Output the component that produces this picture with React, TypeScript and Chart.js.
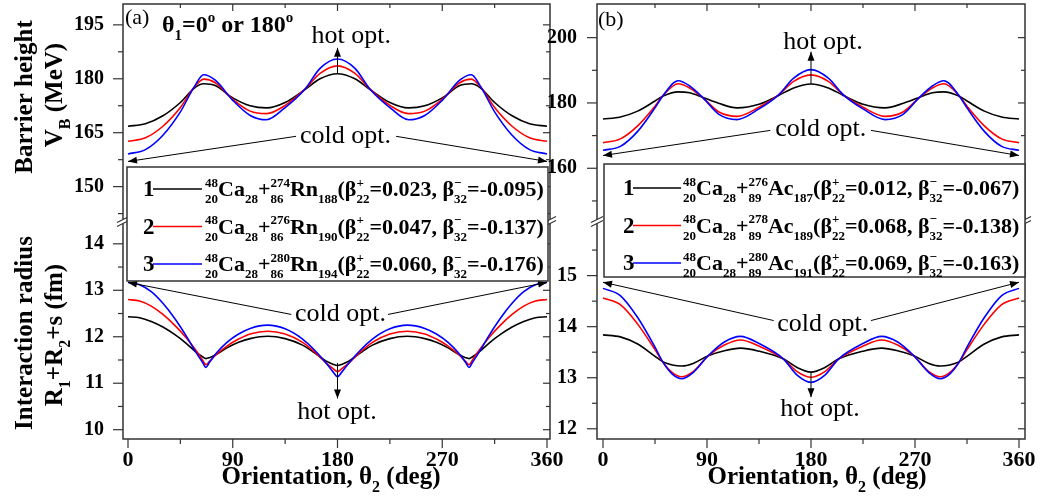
import React, { useEffect, useRef } from 'react';
import { Chart, registerables } from 'chart.js';
Chart.register(...registerables);

const FONT = '"Liberation Serif", "Times New Roman", Times, serif';
const COLORS = ['#000000', '#ff0000', '#0000ff'];

// ---------------- Panel (a): Ca + Rn ----------------
const thetaBarrierA = [0, 15, 30, 45, 57, 65, 75, 90, 105, 119, 135, 152, 165, 180, 195, 208, 225, 241, 255, 270, 285, 295, 303, 315, 330, 345, 360];
const barrierA1 = [166.8, 167.5, 169.7, 173.4, 177.4, 178.6, 178.1, 174.7, 172.5, 171.9, 173.4, 177.0, 180.0, 181.4, 180.0, 177.0, 173.4, 171.9, 172.5, 174.7, 178.1, 178.6, 177.4, 173.4, 169.7, 167.5, 166.8];
const barrierA2 = [162.6, 163.6, 166.8, 172.0, 177.7, 179.9, 178.9, 174.3, 171.0, 170.3, 172.6, 177.1, 181.5, 183.6, 181.5, 177.1, 172.6, 170.3, 171.0, 174.3, 178.9, 179.9, 177.7, 172.0, 166.8, 163.6, 162.6];
const barrierA3 = [159.1, 160.3, 164.3, 170.8, 177.8, 181.1, 179.6, 174.0, 169.8, 168.6, 172.0, 177.1, 182.9, 185.5, 182.9, 177.1, 172.0, 168.6, 169.8, 174.0, 179.6, 181.1, 177.8, 170.8, 164.3, 160.3, 159.1];

const thetaRadiusA = [0, 10, 20, 30, 40, 50, 58, 64, 67, 70, 76, 85, 95, 105, 120, 135, 150, 160, 170, 176, 180, 184, 190, 200, 210, 225, 240, 255, 265, 275, 284, 290, 293, 296, 302, 310, 320, 330, 340, 350, 360];
const radiusA1 = [12.43, 12.41, 12.33, 12.21, 12.05, 11.86, 11.68, 11.57, 11.53, 11.55, 11.62, 11.76, 11.88, 11.96, 12.01, 11.96, 11.82, 11.66, 11.48, 11.41, 11.38, 11.41, 11.48, 11.66, 11.82, 11.96, 12.01, 11.96, 11.88, 11.76, 11.62, 11.55, 11.53, 11.57, 11.68, 11.86, 12.05, 12.21, 12.33, 12.41, 12.43];
const radiusA2 = [12.80, 12.77, 12.66, 12.48, 12.25, 11.98, 11.72, 11.50, 11.40, 11.47, 11.62, 11.80, 11.95, 12.06, 12.12, 12.06, 11.88, 11.68, 11.44, 11.32, 11.25, 11.32, 11.44, 11.68, 11.88, 12.06, 12.12, 12.06, 11.95, 11.80, 11.62, 11.47, 11.40, 11.50, 11.72, 11.98, 12.25, 12.48, 12.66, 12.77, 12.80];
const radiusA3 = [13.17, 13.12, 12.97, 12.72, 12.40, 12.02, 11.68, 11.45, 11.34, 11.45, 11.65, 11.88, 12.06, 12.18, 12.25, 12.17, 11.95, 11.72, 11.44, 11.25, 11.14, 11.25, 11.44, 11.72, 11.95, 12.17, 12.25, 12.18, 12.06, 11.88, 11.65, 11.45, 11.34, 11.45, 11.68, 12.02, 12.40, 12.72, 12.97, 13.12, 13.17];

// ---------------- Panel (b): Ca + Ac ----------------
const thetaBarrierB = [0, 15, 30, 45, 52, 65, 75, 87, 100, 116, 135, 152, 165, 180, 195, 208, 225, 244, 260, 273, 285, 295, 308, 315, 330, 345, 360];
const barrierB1 = [175.1, 175.7, 177.5, 180.6, 182.1, 183.4, 183.1, 181.6, 179.9, 178.5, 179.6, 182.3, 184.6, 185.8, 184.6, 182.3, 179.6, 178.5, 179.9, 181.6, 183.1, 183.4, 182.1, 180.6, 177.5, 175.7, 175.1];
const barrierB2 = [167.8, 169.0, 173.0, 179.0, 182.3, 185.9, 184.6, 181.4, 177.3, 175.9, 178.7, 182.5, 186.6, 188.6, 186.6, 182.5, 178.7, 175.9, 177.3, 181.4, 184.6, 185.9, 182.3, 179.0, 173.0, 169.0, 167.8];
const barrierB3 = [165.5, 166.7, 171.3, 178.5, 182.3, 186.8, 185.2, 181.4, 176.6, 174.9, 178.2, 182.5, 187.6, 190.2, 187.6, 182.5, 178.2, 174.9, 176.6, 181.4, 185.2, 186.8, 182.3, 178.5, 171.3, 166.7, 165.5];

const thetaRadiusB = [0, 15, 30, 45, 52, 60, 68, 78, 91, 105, 119, 135, 156, 168, 180, 192, 204, 225, 241, 255, 269, 282, 292, 300, 308, 315, 330, 345, 360];
const radiusB1 = [13.84, 13.80, 13.66, 13.42, 13.31, 13.25, 13.23, 13.28, 13.43, 13.53, 13.58, 13.52, 13.37, 13.20, 13.11, 13.20, 13.37, 13.52, 13.58, 13.53, 13.43, 13.28, 13.23, 13.25, 13.31, 13.42, 13.66, 13.80, 13.84];
const radiusB2 = [14.56, 14.43, 14.05, 13.55, 13.30, 13.10, 13.02, 13.12, 13.43, 13.64, 13.74, 13.62, 13.37, 13.12, 13.01, 13.12, 13.37, 13.62, 13.74, 13.64, 13.43, 13.12, 13.02, 13.10, 13.30, 13.55, 14.05, 14.43, 14.56];
const radiusB3 = [14.75, 14.61, 14.18, 13.60, 13.30, 13.07, 12.98, 13.10, 13.43, 13.70, 13.81, 13.67, 13.37, 13.05, 12.91, 13.05, 13.37, 13.67, 13.81, 13.70, 13.43, 13.10, 12.98, 13.07, 13.30, 13.60, 14.18, 14.61, 14.75];

// ---------------- Legend labels ----------------
const legendMassA = ['274', '276', '280'];
const legendNeutronA = ['188', '190', '194'];
const beta22A = ['0.023', '0.047', '0.060'];
const beta32A = ['-0.095', '-0.137', '-0.176'];
const legendMassB = ['276', '278', '280'];
const legendNeutronB = ['187', '189', '191'];
const beta22B = ['0.012', '0.068', '0.069'];
const beta32B = ['-0.067', '-0.138', '-0.163'];

type Seg = { n?: string; sup?: string; sub?: string };

const fnt = (size: number, bold: boolean) => `${bold ? 'bold ' : ''}${size}px ${FONT}`;
const isMajor = (v: number, m: number) => Math.abs(v / m - Math.round(v / m)) < 1e-6;

function segWidth(ctx: CanvasRenderingContext2D, s: Seg, main: number, small: number, bold: boolean) {
  if (s.n !== undefined) {
    ctx.font = fnt(main, bold);
    return ctx.measureText(s.n).width;
  }
  ctx.font = fnt(small, bold);
  return Math.max(s.sup ? ctx.measureText(s.sup).width : 0, s.sub ? ctx.measureText(s.sub).width : 0);
}

function drawRich(ctx: CanvasRenderingContext2D, segs: Seg[], x: number, y: number, main: number, small: number, bold: boolean, align: string) {
  const total = segs.reduce((a, s) => a + segWidth(ctx, s, main, small, bold), 0);
  let cx = align === 'center' ? x - total / 2 : align === 'right' ? x - total : x;
  ctx.textAlign = 'left';
  ctx.textBaseline = 'alphabetic';
  for (const s of segs) {
    const w = segWidth(ctx, s, main, small, bold);
    if (s.n !== undefined) {
      ctx.font = fnt(main, bold);
      ctx.fillText(s.n, cx, y);
    } else {
      ctx.font = fnt(small, bold);
      if (s.sup) ctx.fillText(s.sup, cx, y - 0.42 * main);
      if (s.sub) ctx.fillText(s.sub, cx, y + 0.33 * main);
    }
    cx += w;
  }
  return total;
}

function arrowLine(ctx: CanvasRenderingContext2D, x1: number, y1: number, x2: number, y2: number) {
  ctx.beginPath();
  ctx.moveTo(x1, y1);
  ctx.lineTo(x2, y2);
  ctx.stroke();
  const a = Math.atan2(y2 - y1, x2 - x1);
  const L = 9, W = 3.5;
  ctx.beginPath();
  ctx.moveTo(x2, y2);
  ctx.lineTo(x2 - L * Math.cos(a) + W * Math.sin(a), y2 - L * Math.sin(a) - W * Math.cos(a));
  ctx.lineTo(x2 - L * Math.cos(a) - W * Math.sin(a), y2 - L * Math.sin(a) + W * Math.cos(a));
  ctx.closePath();
  ctx.fill();
}

const SPEC_A = {
  left: 0, width: 580, yWidth: 123, padRight: 30, yPad: 11,
  xRange: [-4.3, 362.58],
  top: { min: 140.3, max: 200.8, step: 7.5, major: 15, tickMax: 200 },
  bot: { min: 9.8, max: 14.48, step: 0.5, major: 1, tickMax: 14.2 },
  upper: { theta: thetaBarrierA, series: [barrierA1, barrierA2, barrierA3] },
  lower: { theta: thetaRadiusA, series: [radiusA1, radiusA2, radiusA3] },
  legend: { box: [127, 167, 548, 281], num: 16, l1: 26, l2: 75, tx: 78, first: 29, gap: 37.5, el: 'Rn', Z: '86', mass: legendMassA, neutron: legendNeutronA, b22: beta22A, b32: beta32A },
  arrows: [
    { axis: 'top', from: [180, 181.4], to: [180, 188.6] },
    { axis: 'top', from: [144.4, 164.0], to: [0, 157.0] },
    { axis: 'top', from: [230.3, 164.0], to: [360, 157.0] },
    { axis: 'bot', from: [140.3, 12.48], to: [0, 13.17] },
    { axis: 'bot', from: [223.4, 12.48], to: [360, 13.17] },
    { axis: 'bot', from: [180, 11.435], to: [180, 10.674] },
  ],
  texts: [
    { axis: 'top', text: 'hot opt.', at: [191.8, 190.0] },
    { axis: 'top', text: 'cold opt.', at: [186.9, 162.1] },
    { axis: 'bot', text: 'cold opt.', at: [182.6, 12.34] },
    { axis: 'bot', text: 'hot opt.', at: [179.6, 10.24] },
  ],
  tag: { text: '(a)', x: 125, y: 24 },
  theta1: true,
  yTitles: true,
  xTitleCenter: 331,
};

const SPEC_B = {
  left: 540, width: 503, yWidth: 57, padRight: 18, yPad: 12,
  xRange: [-5.19, 365.19],
  top: { min: 143.7, max: 210.3, step: 10, major: 20, tickMax: 205 },
  bot: { min: 11.8, max: 16.06, step: 0.5, major: 1, tickMax: 15.6 },
  upper: { theta: thetaBarrierB, series: [barrierB1, barrierB2, barrierB3] },
  lower: { theta: thetaRadiusB, series: [radiusB1, radiusB2, radiusB3] },
  legend: { box: [604, 164, 1025, 277], num: 19, l1: 29, l2: 77, tx: 79, first: 31, gap: 37.5, el: 'Ac', Z: '89', mass: legendMassB, neutron: legendNeutronB, b22: beta22B, b32: beta32B },
  arrows: [
    { axis: 'top', from: [180, 185.8], to: [180, 195.7] },
    { axis: 'top', from: [144.8, 171.6], to: [0, 163.9] },
    { axis: 'top', from: [231.9, 171.6], to: [360, 163.9] },
    { axis: 'bot', from: [147.7, 14.12], to: [0, 14.87] },
    { axis: 'bot', from: [231.9, 14.12], to: [360, 14.87] },
    { axis: 'bot', from: [180, 13.11], to: [180, 12.62] },
  ],
  texts: [
    { axis: 'top', text: 'hot opt.', at: [190.4, 196.6] },
    { axis: 'top', text: 'cold opt.', at: [188.5, 170.0] },
    { axis: 'bot', text: 'cold opt.', at: [190.2, 13.92] },
    { axis: 'bot', text: 'hot opt.', at: [187.8, 12.25] },
  ],
  tag: { text: '(b)', x: 598, y: 26 },
  theta1: false,
  yTitles: false,
  xTitleCenter: 817,
};

function legendSegs(lg: any, i: number): Seg[] {
  return [
    { sup: '48', sub: '20' }, { n: 'Ca' }, { sub: '28' }, { n: '+' },
    { sup: lg.mass[i], sub: lg.Z }, { n: lg.el }, { sub: lg.neutron[i] },
    { n: '(\u03b2' }, { sup: '+', sub: '22' }, { n: '=' + lg.b22[i] + ', \u03b2' },
    { sup: '\u2212', sub: '32' }, { n: '=' + lg.b32[i] + ')' },
  ];
}

function makeChart(canvas: HTMLCanvasElement, sp: any) {
  const ds = (theta: number[], vals: number[], i: number, axis: string) => ({
    data: theta.map((t, k) => ({ x: t, y: vals[k] })),
    yAxisID: axis,
    borderColor: COLORS[i],
    borderWidth: 1.6,
    pointRadius: 0,
    fill: false,
    cubicInterpolationMode: 'monotone',
    order: 2 - i,
  });
  const datasets = [
    ...sp.upper.series.map((v: number[], i: number) => ds(sp.upper.theta, v, i, 'yTop')),
    ...sp.lower.series.map((v: number[], i: number) => ds(sp.lower.theta, v, i, 'yBot')),
  ];
  const zeroPad = (s: any) => { s.paddingTop = 0; s.paddingBottom = 0; s.paddingLeft = 0; s.paddingRight = 0; };
  const yScale = (cfg: any) => ({
    type: 'linear',
    position: 'left',
    stack: 'v',
    stackWeight: 1,
    min: cfg.min,
    max: cfg.max,
    grid: { display: false },
    border: { display: false },
    ticks: {
      stepSize: cfg.step,
      includeBounds: false,
      autoSkip: false,
      padding: sp.yPad,
      color: '#000',
      font: { family: FONT, size: 20, weight: 'bold' },
      callback: (v: number) => (isMajor(v, cfg.major) && v <= cfg.tickMax ? String(Math.round(v)) : ''),
    },
    afterFit: (s: any) => { s.width = sp.yWidth; zeroPad(s); },
  });

  const decor = {
    id: 'decor',
    afterDraw(chart: any) {
      const ctx: CanvasRenderingContext2D = chart.ctx;
      const ca = chart.chartArea;
      const X = chart.scales.x, YT = chart.scales.yTop, YB = chart.scales.yBot;
      const L = sp.left;
      const seg = (x1: number, y1: number, x2: number, y2: number) => {
        ctx.beginPath(); ctx.moveTo(x1, y1); ctx.lineTo(x2, y2); ctx.stroke();
      };
      ctx.save();
      // frame
      ctx.strokeStyle = '#333';
      ctx.lineWidth = 1.5;
      ctx.strokeRect(ca.left, ca.top, ca.right - ca.left, ca.bottom - ca.top);
      ctx.lineWidth = 1.2;
      for (const t of X.ticks) {
        const px = X.getPixelForValue(t.value);
        const mj = isMajor(t.value, 90);
        seg(px, ca.bottom, px, ca.bottom + (mj ? 9 : 5));
        if (t.value > 0 && t.value < 360) seg(px, ca.top, px, ca.top + (mj ? 7 : 4));
      }
      const pairs: any[] = [[YT, sp.top], [YB, sp.bot]];
      for (const [sc, cfg] of pairs) {
        for (const t of sc.ticks) {
          if (t.value > cfg.tickMax) continue;
          const py = sc.getPixelForValue(t.value);
          const mj = isMajor(t.value, cfg.major);
          seg(ca.left - (mj ? 10 : 5), py, ca.left, py);
          seg(ca.right - (mj ? 7 : 4), py, ca.right, py);
        }
      }
      // axis break marks
      const yb = YT.bottom;
      for (const ex of [ca.left, ca.right]) {
        ctx.fillStyle = '#fff';
        ctx.fillRect(ex - 2, yb - 2, 4, 4);
        ctx.strokeStyle = '#333';
        ctx.lineWidth = 1.2;
        seg(ex - 6, yb + 1, ex + 6, yb - 5);
        seg(ex - 6, yb + 5, ex + 6, yb - 1);
      }
      // annotations
      ctx.strokeStyle = '#000';
      ctx.fillStyle = '#000';
      ctx.lineWidth = 1;
      const P = (axis: string, p: number[]) => [X.getPixelForValue(p[0]), (axis === 'top' ? YT : YB).getPixelForValue(p[1])];
      for (const a of sp.arrows) {
        const [x1, y1] = P(a.axis, a.from);
        const [x2, y2] = P(a.axis, a.to);
        arrowLine(ctx, x1, y1, x2, y2);
      }
      for (const t of sp.texts) {
        const [x, y] = P(t.axis, t.at);
        ctx.font = fnt(26, false);
        ctx.textAlign = 'center';
        ctx.textBaseline = 'alphabetic';
        ctx.fillStyle = '#000';
        ctx.fillText(t.text, x, y);
      }
      // legend
      const lg = sp.legend;
      const bl = lg.box[0] - L, bt = lg.box[1], br = lg.box[2] - L, bb = lg.box[3];
      ctx.fillStyle = '#fff';
      ctx.fillRect(bl, bt, br - bl, bb - bt);
      ctx.strokeStyle = '#333';
      ctx.lineWidth = 1.5;
      ctx.strokeRect(bl, bt, br - bl, bb - bt);
      for (let i = 0; i < 3; i++) {
        const y = bt + lg.first + i * lg.gap;
        ctx.fillStyle = '#000';
        ctx.font = fnt(23, true);
        ctx.textAlign = 'left';
        ctx.textBaseline = 'alphabetic';
        ctx.fillText(String(i + 1), bl + lg.num, y);
        ctx.strokeStyle = COLORS[i];
        ctx.lineWidth = 1.6;
        seg(bl + lg.l1, y - 7, bl + lg.l2, y - 7);
        ctx.fillStyle = '#000';
        drawRich(ctx, legendSegs(lg, i), bl + lg.tx, y, 22, 13, true, 'left');
      }
      // panel tag
      ctx.fillStyle = '#000';
      ctx.font = fnt(22, false);
      ctx.textAlign = 'left';
      ctx.textBaseline = 'alphabetic';
      ctx.fillText(sp.tag.text, sp.tag.x - L, sp.tag.y);
      if (sp.theta1) {
        drawRich(ctx, [{ n: '\u03b8' }, { sub: '1' }, { n: '=0' }, { sup: 'o' }, { n: ' or 180' }, { sup: 'o' }], 162 - L, 32, 24, 15, true, 'left');
      }
      // x title
      drawRich(ctx, [{ n: 'Orientation, \u03b8' }, { sub: '2' }, { n: ' (deg)' }], sp.xTitleCenter - L, 484, 25, 16, true, 'center');
      // y titles
      if (sp.yTitles) {
        const rot = (segs: Seg[], bx: number, cy: number) => {
          ctx.save();
          ctx.translate(bx, cy);
          ctx.rotate(-Math.PI / 2);
          drawRich(ctx, segs, 0, 0, 25, 16, true, 'center');
          ctx.restore();
        };
        rot([{ n: 'Barrier height' }], 32, 97);
        rot([{ n: 'V' }, { sub: 'B' }, { n: ' (MeV)' }], 62, 95);
        rot([{ n: 'Interaction radius' }], 32, 333);
        rot([{ n: 'R' }, { sub: '1' }, { n: '+R' }, { sub: '2' }, { n: '+s (fm)' }], 62, 335);
      }
      ctx.restore();
    },
  };

  return new Chart(canvas, {
    type: 'line',
    data: { datasets } as any,
    options: {
      animation: false,
      responsive: false,
      devicePixelRatio: 1,
      layout: { padding: { left: 0, right: sp.padRight, top: 4, bottom: 0 } },
      plugins: { legend: { display: false }, tooltip: { enabled: false } },
      scales: {
        x: {
          type: 'linear',
          position: 'bottom',
          min: sp.xRange[0],
          max: sp.xRange[1],
          grid: { display: false },
          border: { display: false },
          ticks: {
            stepSize: 45,
            autoSkip: false,
            maxRotation: 0,
            includeBounds: false,
            padding: 0,
            color: '#000',
            font: { family: FONT, size: 22, weight: 'bold' },
            callback: (v: number) => (isMajor(v, 90) ? String(Math.round(v)) : ''),
          },
          afterFit: (s: any) => { s.height = 60; zeroPad(s); },
        },
        yBot: yScale(sp.bot),
        yTop: yScale(sp.top),
      } as any,
    },
    plugins: [decor],
  } as any);
}

export default function App() {
  const refA = useRef<HTMLCanvasElement>(null);
  const refB = useRef<HTMLCanvasElement>(null);
  useEffect(() => {
    const ca = makeChart(refA.current as HTMLCanvasElement, SPEC_A);
    const cb = makeChart(refB.current as HTMLCanvasElement, SPEC_B);
    return () => { ca.destroy(); cb.destroy(); };
  }, []);
  return (
    <div style={{ position: 'absolute', left: 0, top: 0, width: 1040, height: 499, overflow: 'hidden', background: '#fff' }}>
      <canvas ref={refA} width={580} height={499} style={{ position: 'absolute', left: 0, top: 0 }} />
      <canvas ref={refB} width={503} height={499} style={{ position: 'absolute', left: 540, top: 0 }} />
    </div>
  );
}
